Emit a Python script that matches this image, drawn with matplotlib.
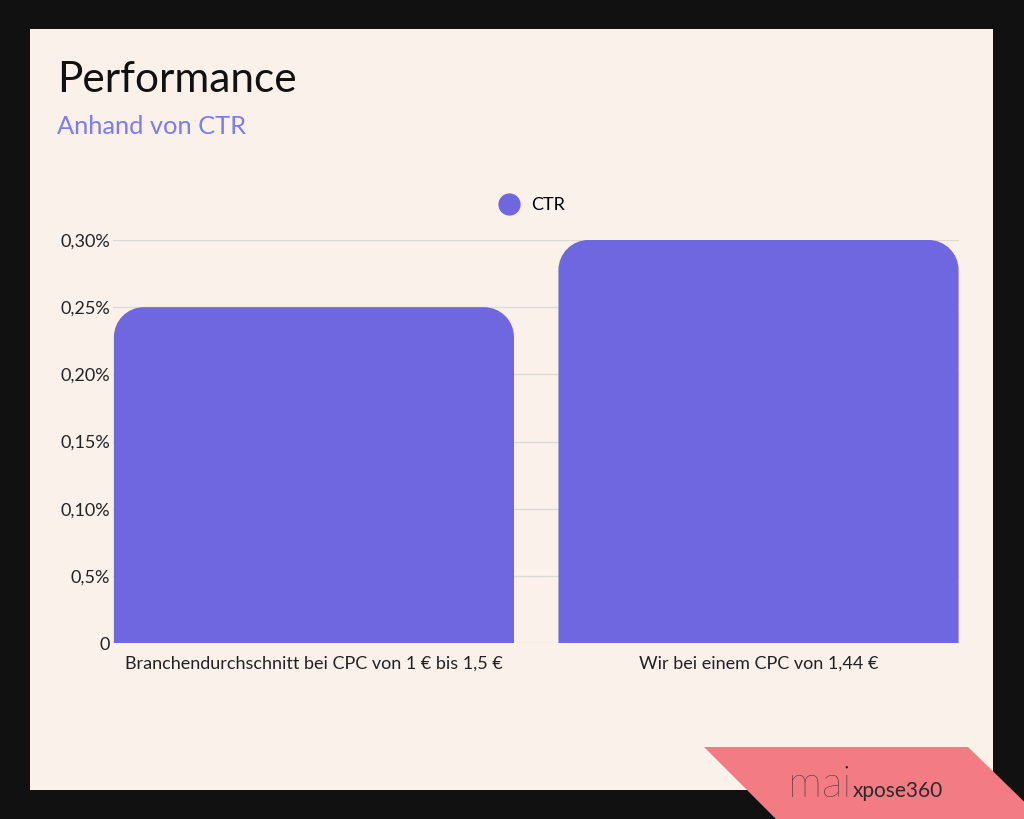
import matplotlib
matplotlib.use('Agg')
import matplotlib.pyplot as plt
from matplotlib.path import Path
from matplotlib.patches import PathPatch, Polygon, Rectangle
from matplotlib.lines import Line2D

categories = ["Branchendurchschnitt bei CPC von 1 € bis 1,5 €", "Wir bei einem CPC von 1,44 €"]
ctr_values = [0.25, 0.30]
ytick_values = [0, 0.05, 0.10, 0.15, 0.20, 0.25, 0.30]
ytick_labels = ["0", "0,5%", "0,10%", "0,15%", "0,20%", "0,25%", "0,30%"]
series_name = "CTR"
title = "Performance"
subtitle = "Anhand von CTR"

BAR = '#6F67DF'
FONT = 'Lato'
W, H = 1024, 819
fig = plt.figure(figsize=(W / 100, H / 100), dpi=100)
fig.patch.set_facecolor('#111111')


def fx(x):
    return x / W


def fy(y):
    return 1 - y / H


fig.add_artist(Rectangle((fx(30), fy(790)), (993 - 30) / W, (790 - 29) / H,
                         transform=fig.transFigure, facecolor='#FAF1EB',
                         edgecolor='none', zorder=0))
fig.add_artist(Polygon([(fx(704), fy(747)), (fx(968), fy(747)), (fx(1045), fy(822)), (fx(779), fy(822))],
                       closed=True, transform=fig.transFigure, facecolor='#F27B84',
                       edgecolor='none', zorder=1))
fig.text(fx(788), fy(797), "mai", fontsize=31, family=FONT, weight='light', color='#222222',
         va='baseline', ha='left', zorder=3)
fig.text(fx(853), fy(797), "xpose360", fontsize=15, family=FONT, color='#2b2b2b',
         va='baseline', ha='left', zorder=3)

fig.text(fx(57), fy(80), title, fontsize=30.5, family=FONT, color='#111111', va='center', ha='left')
fig.text(fx(57), fy(127), subtitle, fontsize=18.3, family=FONT, color='#7B7BF2', va='center', ha='left')

ax = fig.add_axes([fx(113), fy(643), (959 - 113) / W, (643 - 240) / H])
ax.set_facecolor('none')
for s in ax.spines.values():
    s.set_visible(False)
x = list(range(len(categories)))
ax.set_xlim(-0.452, 1.451)
ax.set_ylim(0, 0.30)
ax.set_yticks(ytick_values)
ax.set_yticklabels(ytick_labels)
ax.set_xticks(x)
ax.set_xticklabels(categories)
ax.tick_params(axis='both', length=0, labelcolor='#222222')
ax.tick_params(axis='y', pad=2, labelsize=13)
ax.tick_params(axis='x', pad=9, labelsize=13)
for lab in ax.get_xticklabels() + ax.get_yticklabels():
    lab.set_family(FONT)
ax.yaxis.grid(True, color='#E0DAD4', lw=1)
ax.set_axisbelow(True)

bars = ax.bar(x, ctr_values, width=0.9, color=BAR)
# rounded top corners
px_per_x = (959 - 113) / (1.451 + 0.452)
px_per_y = (643 - 240) / 0.30
r_px = 30
rx = r_px / px_per_x
ry = r_px / px_per_y
k = 0.5523
for b in bars:
    b.set_visible(False)
    x0, w, h = b.get_x(), b.get_width(), b.get_height()
    x1 = x0 + w
    verts = [(x0, 0), (x0, h - ry),
             (x0, h - ry + k * ry), (x0 + rx - k * rx, h), (x0 + rx, h),
             (x1 - rx, h),
             (x1 - rx + k * rx, h), (x1, h - ry + k * ry), (x1, h - ry),
             (x1, 0), (x0, 0)]
    codes = [Path.MOVETO, Path.LINETO,
             Path.CURVE4, Path.CURVE4, Path.CURVE4,
             Path.LINETO,
             Path.CURVE4, Path.CURVE4, Path.CURVE4,
             Path.LINETO, Path.CLOSEPOLY]
    ax.add_patch(PathPatch(Path(verts, codes), facecolor=BAR, edgecolor='none', zorder=2, clip_on=False))

handle = Line2D([], [], marker='o', ls='', color=BAR, markersize=15)
ax.legend(handles=[handle], labels=[series_name], loc='center',
          bbox_to_anchor=(fx(528), fy(205)), bbox_transform=fig.transFigure,
          frameon=False, handletextpad=0.2, prop={'family': FONT, 'size': 13})

fig.savefig('out.png', dpi=100, facecolor=fig.get_facecolor())
